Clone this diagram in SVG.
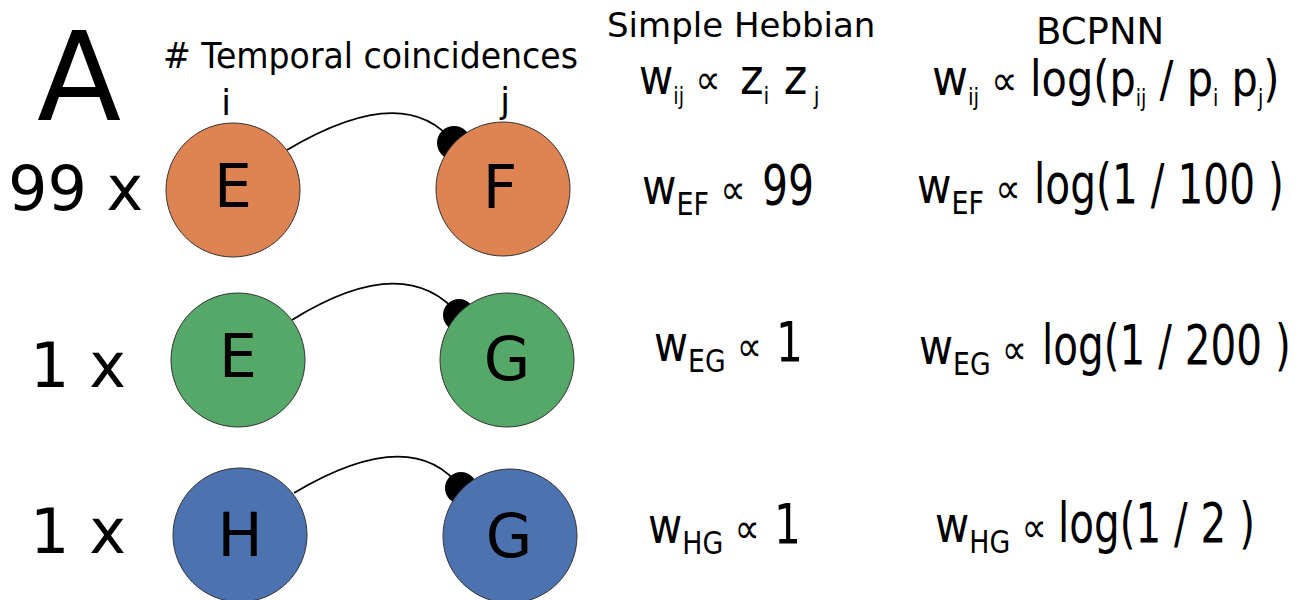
<svg xmlns="http://www.w3.org/2000/svg" width="1305" height="600" viewBox="0 0 1305 600">
  <style>
    text { font-family: "DejaVu Sans", "Liberation Sans", sans-serif; fill: #000; }
    .node { stroke: #333; stroke-width: 1; }
    .orange { fill: #DD8452; }
    .green { fill: #55A868; }
    .blue { fill: #4C72B0; }
    .lbl { font-size: 60px; text-anchor: middle; }
    .edge { fill: none; stroke: #000; stroke-width: 1.8; }
    .syn { fill: #000; }
    .cnt { font-size: 62px; }
    .w { font-size: 50px; }
    .sub { font-size: 32px; }
    .subs { font-size: 23px; }
    .prop { font-size: 42px; }
    .num { font-size: 55px; }
    .numt { font-size: 50px; }
  </style>

  <rect width="1305" height="600" fill="#fff"/>

  <!-- panel letter and column headers -->
  <text x="37" y="120" font-size="123">A</text>
  <text transform="translate(163,68) scale(0.947,1)" font-size="35"># Temporal coincidences</text>
  <text x="226" y="115" font-size="35" text-anchor="middle">i</text>
  <text x="505" y="113" font-size="35" text-anchor="middle">j</text>
  <text x="607" y="37" font-size="34">Simple Hebbian</text>
  <text x="1036" y="44" font-size="37">BCPNN</text>

  <!-- repetition counts -->
  <text x="8" y="210" class="cnt">99 x</text>
  <text x="30" y="387" class="cnt">1 x</text>
  <text x="30" y="553" class="cnt">1 x</text>

  <!-- synapses (drawn under the target nodes) -->
  <g id="connectors">
    <path class="edge" d="M287,150 Q405,80 454,143"/>
    <circle class="syn" cx="454" cy="143" r="17"/>
    <path class="edge" d="M292,320 Q405,250 459,315"/>
    <circle class="syn" cx="459" cy="315" r="16"/>
    <path class="edge" d="M294,493 Q412,423 461,488"/>
    <circle class="syn" cx="461" cy="488" r="16"/>
  </g>

  <!-- row 1 -->
  <g id="node-E1">
    <circle class="node orange" cx="233" cy="190" r="67"/>
    <text class="lbl" x="233" y="207">E</text>
  </g>
  <g id="node-F1">
    <circle class="node orange" cx="503" cy="189" r="67"/>
    <text class="lbl" x="500" y="208">F</text>
  </g>

  <!-- row 2 -->
  <g id="node-E2">
    <circle class="node green" cx="238" cy="360" r="67"/>
    <text class="lbl" x="238" y="377">E</text>
  </g>
  <g id="node-G2">
    <circle class="node green" cx="507" cy="360" r="67"/>
    <text class="lbl" x="507" y="380">G</text>
  </g>

  <!-- row 3 -->
  <g id="node-H3">
    <circle class="node blue" cx="240" cy="535" r="67"/>
    <text class="lbl" x="240" y="556">H</text>
  </g>
  <g id="node-G3">
    <circle class="node blue" cx="510" cy="536" r="67"/>
    <text class="lbl" x="509" y="557">G</text>
  </g>

  <!-- Hebbian rule (narrowed glyphs) -->
  <g id="hebbian">
    <text transform="translate(639,94) scale(0.84,1)"><tspan class="w">w</tspan><tspan class="subs" dy="10">ij</tspan><tspan class="prop" dy="-10"> ∝</tspan></text>
    <text transform="translate(740,94) scale(0.90,1)"><tspan class="w">z</tspan><tspan class="subs" dy="10">i</tspan><tspan class="w" dy="-10"> z</tspan><tspan class="subs" dy="10"> j</tspan></text>

    <text transform="translate(642,204) scale(0.843,1)"><tspan class="w">w</tspan><tspan class="sub" dy="11">EF</tspan><tspan class="prop" dy="-11"> ∝</tspan></text>
    <text transform="translate(762,204) scale(0.743,1)" class="num">99</text>

    <text transform="translate(654,361) scale(0.833,1)"><tspan class="w">w</tspan><tspan class="sub" dy="11">EG</tspan><tspan class="prop" dy="-11"> ∝</tspan></text>
    <text transform="translate(776,361) scale(0.77,1)" class="num">1</text>

    <text transform="translate(648,543) scale(0.838,1)"><tspan class="w">w</tspan><tspan class="sub" dy="11">HG</tspan><tspan class="prop" dy="-11"> ∝</tspan></text>
    <text transform="translate(774,543) scale(0.77,1)" class="num">1</text>
  </g>

  <!-- BCPNN rule (narrowed glyphs) -->
  <g id="bcpnn">
    <text transform="translate(932,95) scale(0.88,1)"><tspan class="w">w</tspan><tspan class="subs" dy="10">ij</tspan><tspan class="prop" dy="-10"> ∝</tspan></text>
    <text transform="translate(1030,96) scale(0.83,1)"><tspan class="numt">log(p</tspan><tspan class="subs" dy="10">ij</tspan><tspan class="numt" dy="-10"> / p</tspan><tspan class="subs" dy="10">i</tspan><tspan class="numt" dy="-10"> p</tspan><tspan class="subs" dy="10">j</tspan><tspan class="numt" dy="-10">)</tspan></text>

    <text transform="translate(917,203) scale(0.843,1)"><tspan class="w">w</tspan><tspan class="sub" dy="11">EF</tspan><tspan class="prop" dy="-11"> ∝</tspan></text>
    <text transform="translate(1034,203) scale(0.740,1)" class="num">log(1 / 100 )</text>

    <text transform="translate(919,364) scale(0.833,1)"><tspan class="w">w</tspan><tspan class="sub" dy="11">EG</tspan><tspan class="prop" dy="-11"> ∝</tspan></text>
    <text transform="translate(1042,364) scale(0.737,1)" class="num">log(1 / 200 )</text>

    <text transform="translate(935,542) scale(0.838,1)"><tspan class="w">w</tspan><tspan class="sub" dy="11">HG</tspan><tspan class="prop" dy="-11"> ∝</tspan></text>
    <text transform="translate(1058,542) scale(0.736,1)" class="num">log(1 / 2 )</text>
  </g>
</svg>
